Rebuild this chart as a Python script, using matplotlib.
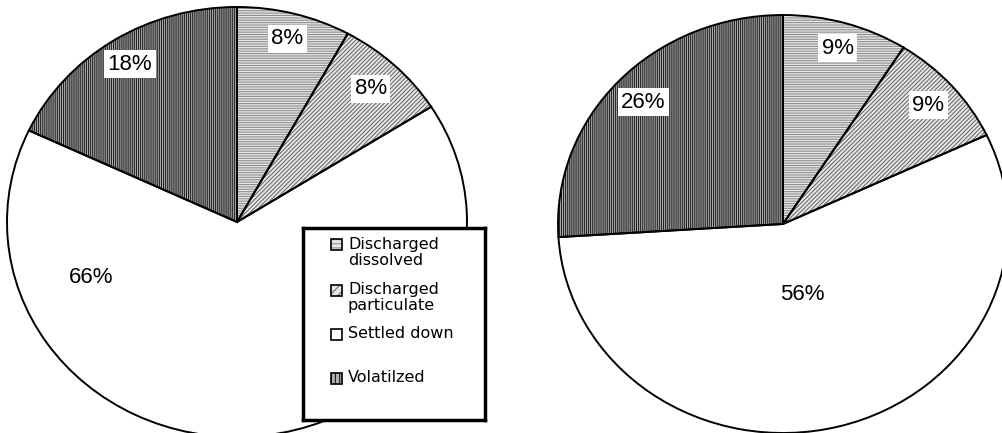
import math

import matplotlib.pyplot as plt
from matplotlib.patches import Rectangle

plt.rcParams['font.family'] = ['Liberation Sans', 'DejaVu Sans']
plt.rcParams['hatch.linewidth'] = 0.8

categories = ['Discharged\ndissolved', 'Discharged\nparticulate', 'Settled down', 'Volatilzed']
left_values = [8, 8, 66, 18]
right_values = [9, 9, 56, 26]

# styling per category
hatches = ['-------', '////////', '', '||||||||']
face_colors = ['#e6e6e6', '#e8e8e8', 'white', '#b0b0b0']
hatch_colors = ['#8f8f8f', '#6e6e6e', 'white', '#222222']

# label distance from centre (fraction of radius), per wedge
left_label_r = [0.88, 0.85, 0.69, 0.87]
right_label_r = [0.875, 0.86, 0.35, 0.85]
left_big_label_xy = (-0.635, -0.26)

fig = plt.figure(figsize=(10.03, 4.33), dpi=100)


def draw_pie(rect, values, label_r, override=None):
    ax = fig.add_axes(rect)
    wedges, _, autotexts = ax.pie(
        values, startangle=90, counterclock=False, colors=face_colors,
        hatch=hatches, autopct=lambda p: f'{p:.0f}%',
        wedgeprops=dict(linewidth=0))
    for w, hc in zip(wedges, hatch_colors):
        w.set_edgecolor(hc)
    # outlines on top
    ax.pie(values, startangle=90, counterclock=False,
           wedgeprops=dict(fill=False, edgecolor='black', linewidth=1.4))
    for i, (w, t) in enumerate(zip(wedges, autotexts)):
        mid = math.radians((w.theta1 + w.theta2) / 2)
        t.set_position((label_r[i] * math.cos(mid), label_r[i] * math.sin(mid)))
        t.set_fontsize(16)
        t.set_zorder(5)
        if face_colors[i] != 'white':
            t.set_bbox(dict(facecolor='white', edgecolor='none', pad=2.5))
    if override:
        for i, xy in override.items():
            autotexts[i].set_position(xy)
    ax.set_aspect('auto')
    ax.set_xlim(-1, 1)
    ax.set_ylim(-1, 1)
    return ax


draw_pie([7 / 1003, -4 / 433, 460 / 1003, 430 / 433], left_values, left_label_r,
         override={2: left_big_label_xy})
draw_pie([558 / 1003, 0, 450 / 1003, 418 / 433], right_values, right_label_r)

# legend box drawn by hand so that the two-line entries line up like the original
leg = fig.add_axes([303 / 1003, 13 / 433, 182 / 1003, 192 / 433])
leg.set_xlim(0, 182)
leg.set_ylim(192, 0)
leg.set_xticks([])
leg.set_yticks([])
for s in leg.spines.values():
    s.set_linewidth(2.5)
entry_y = [17, 62, 106, 150]
for label, y, h, fc, hc in zip(categories, entry_y, hatches, face_colors, hatch_colors):
    leg.add_patch(Rectangle((28, y - 5.5), 11, 11, facecolor=fc, hatch=h[:4],
                            edgecolor=hc, linewidth=0))
    leg.add_patch(Rectangle((28, y - 5.5), 11, 11, fill=False, edgecolor='black', linewidth=1.2))
    leg.text(45, y - 8, label, va='top', ha='left', fontsize=11.5,
             family=['DejaVu Sans'], linespacing=1.1)

fig.savefig('out.png', dpi=100)
